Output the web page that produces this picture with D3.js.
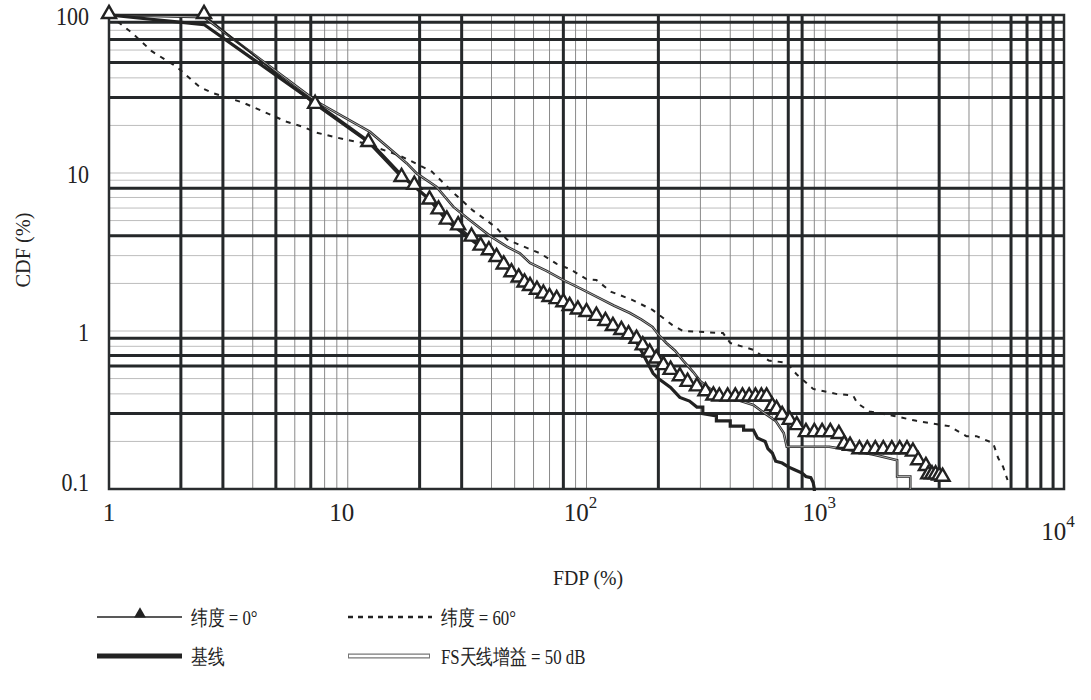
<!DOCTYPE html>
<html>
<head>
<meta charset="utf-8">
<script src="https://cdn.jsdelivr.net/npm/d3@7"></script>
</head>
<body style="margin:0;background:#fff">
<svg width="1091" height="700"></svg>
<script>
const svg = d3.select("svg");
const FONT = "Liberation Serif";

// tick labels and the heavy grid lines of the original
const xTickLabels = [1, 10, 100, 1000, 10000];
const yTickLabels = [0.1, 1, 10, 100];
const xHeavy = [2, 3, 5, 7, 20, 30, 80, 200, 700, 800, 3000, 6000, 7000, 8000, 9000];
const yHeavy = [0.3, 0.6, 0.7, 0.9, 4, 8, 30, 50, 70, 90];

// series, [FDP %, CDF %]
const lat0 = [[1,100],[2.5,100],[7.3,27],[12.2,15.5],[16.8,9.3],[19,8.3],[22,6.7],[24,5.8],[26,5.0],
  [29,4.6],[33,3.9],[36,3.42],[39,3.2],[42,2.9],[45,2.6],[48.5,2.32],[52,2.15],[55,2.0],[58,1.9],
  [62,1.8],[66,1.7],[70,1.62],[75,1.57],[80,1.5],[85,1.42],[92,1.35],[100,1.3],[110,1.23],[120,1.14],
  [129,1.06],[140,1.0],[150,0.94],[162,0.88],[172,0.8],[184,0.72],[196,0.66],[210,0.6],[225,0.56],
  [246,0.51],[265,0.47],[290,0.44],[315,0.41],[340,0.385],[360,0.38],[390,0.38],[420,0.38],[450,0.38],
  [480,0.38],[510,0.38],[540,0.38],[568,0.38],[600,0.33],[625,0.316],[660,0.29],[710,0.27],[760,0.25],
  [830,0.226],[900,0.226],[970,0.226],[1050,0.226],[1140,0.22],[1200,0.19],[1270,0.185],[1390,0.176],
  [1500,0.176],[1620,0.176],[1750,0.176],[1900,0.176],[2050,0.176],[2200,0.176],[2330,0.17],
  [2450,0.15],[2640,0.138],[2700,0.122],[2800,0.122],[2900,0.122],[3000,0.12],[3100,0.118]];

const lat60 = [[1,100],[1.25,77],[1.51,59],[1.92,47],[2.4,35],[2.73,32],[3.64,27.9],[5.55,21.1],
  [6.5,19.6],[7.4,18],[8.8,16.9],[9.9,16.2],[11.6,15.5],[16.5,12.9],[18.2,12],[22.5,10.2],[27.7,7.5],
  [33.4,5.8],[42,4.5],[46.4,3.8],[52.6,3.5],[64,3.1],[75,2.66],[85,2.47],[100,2.13],[110,2.1],
  [127,1.77],[156,1.57],[189,1.36],[229,1.09],[254,1.0],[373,0.97],[400,0.84],[500,0.76],[580,0.65],
  [690,0.63],[760,0.53],[890,0.43],[1110,0.4],[1310,0.39],[1360,0.35],[1530,0.31],[1940,0.29],
  [2410,0.27],[3300,0.25],[3900,0.216],[4300,0.216],[5050,0.195],[5300,0.157],[5560,0.138],[5800,0.114]];

const baseline = [[1,100],[2.5,87],[7.5,27],[12.5,15.5],[17,9.5],[22,6.8],[26,5.0],[36,3.4],[42,2.9],
  [49,2.35],[58,1.9],[75,1.58],[85,1.42],[110,1.22],[129,1.05],[150,0.95],[162,0.85],[172,0.72],
  [190,0.54],[200,0.5],[225,0.44],[246,0.38],[270,0.36],[290,0.33],[307,0.33],[307,0.3],[350,0.29],
  [350,0.27],[400,0.27],[400,0.25],[455,0.25],[455,0.236],[500,0.236],[520,0.21],[560,0.2],[575,0.18],
  [600,0.169],[620,0.15],[660,0.146],[700,0.138],[740,0.133],[800,0.126],[830,0.12],[870,0.118],
  [890,0.11],[900,0.1],[900,0.097]];

const fsGain = [[1,100],[2.5,97],[7.5,28],[12.4,18.2],[17.7,11.5],[19.5,9.9],[23.5,8.2],[27.7,6.1],
  [32.6,5.0],[39.4,4.0],[46.4,3.42],[52.6,3.1],[58,2.7],[68,2.4],[80,2.1],[95,1.85],[110,1.65],
  [130,1.45],[152,1.3],[170,1.18],[189,1.06],[200,0.95],[216,0.84],[235,0.75],[254,0.65],[280,0.55],
  [300,0.48],[330,0.43],[360,0.4],[420,0.37],[500,0.34],[560,0.3],[620,0.27],[670,0.226],[690,0.185],
  [1040,0.185],[1300,0.175],[1600,0.165],[2000,0.152],[2000,0.12],[2270,0.12],[2270,0.1]];

const x = d3.scaleLog().domain([1, 1e4]).range([109, 1064]);
const y = d3.scaleLog().domain([0.1, 100]).range([489, 15]);

const [x0, x1] = x.range();
const [y0, y1] = y.range();

// narrow the serif face a little, like the condensed Times of the original
function condense(sel, k) {
  sel.each(function () {
    const w = this.getComputedTextLength();
    d3.select(this).attr("textLength", w * k).attr("lengthAdjust", "spacingAndGlyphs");
  });
}

// thin grid
const xMinor = x.ticks().filter(v => !xHeavy.includes(v) && v > 1 && v < 1e4);
const yMinor = y.ticks().filter(v => !yHeavy.includes(v) && v > 0.1 && v < 100);

svg.append("g").selectAll("line").data(yMinor).join("line")
  .attr("x1", x0).attr("x2", x1)
  .attr("y1", d => y(d)).attr("y2", d => y(d))
  .attr("stroke", "#bdbdbd").attr("stroke-width", 1);

svg.append("g").selectAll("line").data(xMinor).join("line")
  .attr("y1", y1).attr("y2", y0)
  .attr("x1", d => x(d)).attr("x2", d => x(d))
  .attr("stroke", "#8a8a8a").attr("stroke-width", 1);

// heavy grid
svg.append("g").selectAll("line").data(yHeavy).join("line")
  .attr("x1", x0).attr("x2", x1)
  .attr("y1", d => y(d)).attr("y2", d => y(d))
  .attr("stroke", "#25282a").attr("stroke-width", 3);

svg.append("g").selectAll("line").data(xHeavy).join("line")
  .attr("y1", y1).attr("y2", y0)
  .attr("x1", d => x(d)).attr("x2", d => x(d))
  .attr("stroke", "#25282a").attr("stroke-width", 3);

// frame
svg.append("rect")
  .attr("x", x0).attr("y", y1)
  .attr("width", x1 - x0).attr("height", y0 - y1)
  .attr("fill", "none").attr("stroke", "#2a2d2f").attr("stroke-width", 2.5);

// curves
svg.append("clipPath").attr("id", "plot")
  .append("rect").attr("x", x0 - 2).attr("y", y1 - 4)
  .attr("width", x1 - x0 + 4).attr("height", y0 - y1 + 8);

const line = d3.line().x(d => x(d[0])).y(d => y(d[1]));
const curves = svg.append("g").attr("clip-path", "url(#plot)");

curves.append("path").attr("d", line(lat60))
  .attr("fill", "none").attr("stroke", "#222").attr("stroke-width", 2)
  .attr("stroke-dasharray", "5,6");

curves.append("path").attr("d", line(fsGain))
  .attr("fill", "none").attr("stroke", "#2a2a2a").attr("stroke-width", 2.6);
curves.append("path").attr("d", line(fsGain))
  .attr("fill", "none").attr("stroke", "#fff").attr("stroke-width", 0.6);

curves.append("path").attr("d", line(baseline))
  .attr("fill", "none").attr("stroke", "#222").attr("stroke-width", 3.2);

curves.append("path").attr("d", line(lat0))
  .attr("fill", "none").attr("stroke", "#222").attr("stroke-width", 1.6);

const tri = d3.symbol().type(d3.symbolTriangle).size(85);
svg.append("g").selectAll("path").data(lat0).join("path")
  .attr("d", tri)
  .attr("transform", d => `translate(${x(d[0])},${y(d[1]) - 1})`)
  .attr("fill", "#fff").attr("stroke", "#222").attr("stroke-width", 2.4);

// tick labels
const yl = svg.append("g").selectAll("text").data(yTickLabels).join("text")
  .attr("x", x0 - 20).attr("y", d => Math.min(y(d) + 10, y0 + 2))
  .attr("text-anchor", "end")
  .attr("font-size", 25).attr("fill", "#222")
  .style("font-family", FONT)
  .text(d => d);
condense(yl, 0.88);

const xl = svg.append("g").selectAll("text").data(xTickLabels).join("text")
  .attr("x", d => x(d) - (d === 1 ? 0 : 6))
  .attr("y", (d, i) => i === xTickLabels.length - 1 ? 540 : 521)
  .attr("text-anchor", "middle")
  .attr("font-size", 25).attr("fill", "#222")
  .style("font-family", FONT);
xl.append("tspan").text(d => d < 100 ? d : "10");
xl.append("tspan")
  .attr("font-size", 17).attr("dy", -13)
  .text(d => d < 100 ? "" : Math.round(Math.log10(d)));

// axis titles
const yt = svg.append("text")
  .attr("transform", "translate(30,250) rotate(-90)")
  .attr("text-anchor", "middle").attr("font-size", 22).attr("fill", "#222")
  .style("font-family", FONT)
  .text("CDF (%)");
condense(yt, 0.92);

const xt = svg.append("text")
  .attr("x", 588).attr("y", 585)
  .attr("text-anchor", "middle").attr("font-size", 22).attr("fill", "#222")
  .style("font-family", FONT)
  .text("FDP (%)");
condense(xt, 0.9);

// legend
const lg = svg.append("g");
const legendText = (tx, ty, s) => {
  const t = lg.append("text")
    .attr("x", tx).attr("y", ty).attr("font-size", 21).attr("fill", "#222")
    .style("font-family", FONT).text(s);
  condense(t, 0.8);
};

lg.append("line").attr("x1", 97).attr("x2", 182).attr("y1", 617).attr("y2", 617)
  .attr("stroke", "#222").attr("stroke-width", 1.6);
lg.append("path").attr("d", d3.symbol().type(d3.symbolTriangle).size(60))
  .attr("transform", "translate(140,614)").attr("fill", "#222");
legendText(191, 625, "纬度 = 0°");

lg.append("line").attr("x1", 348).attr("x2", 432).attr("y1", 617).attr("y2", 617)
  .attr("stroke", "#222").attr("stroke-width", 2.5).attr("stroke-dasharray", "5,5");
legendText(441, 625, "纬度 = 60°");

lg.append("line").attr("x1", 97).attr("x2", 182).attr("y1", 656).attr("y2", 656)
  .attr("stroke", "#222").attr("stroke-width", 5);
legendText(191, 664, "基线");

lg.append("line").attr("x1", 348).attr("x2", 430).attr("y1", 656).attr("y2", 656)
  .attr("stroke", "#777").attr("stroke-width", 5);
lg.append("line").attr("x1", 349).attr("x2", 429).attr("y1", 656).attr("y2", 656)
  .attr("stroke", "#fff").attr("stroke-width", 2.4);
legendText(441, 664, "FS天线增益 = 50 dB");
</script>
</body>
</html>
